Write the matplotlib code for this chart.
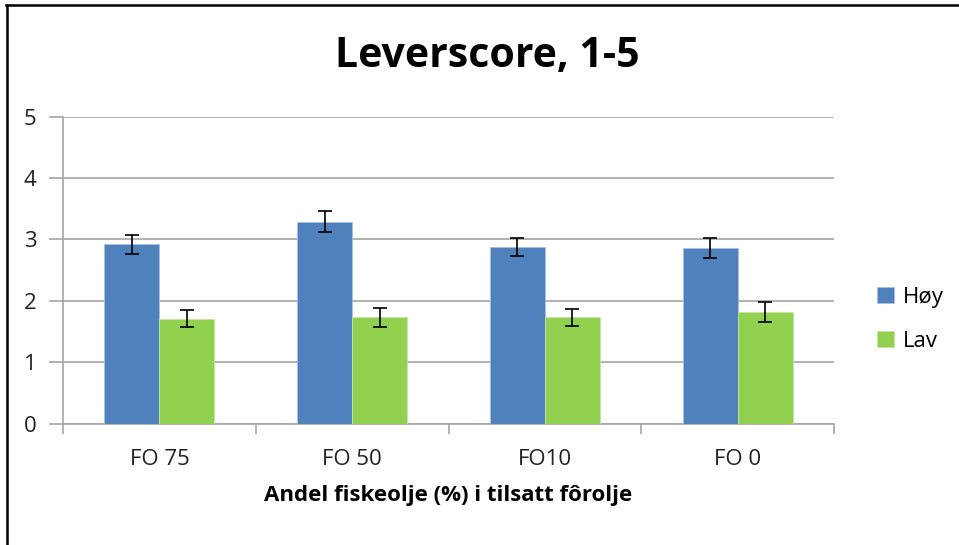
import matplotlib
matplotlib.use("Agg")
import matplotlib.pyplot as plt
import numpy as np
from matplotlib.lines import Line2D

plt.rcParams['font.family'] = ['Open Sans', 'DejaVu Sans']

categories = ["FO 75", "FO 50", "FO10", "FO 0"]
hoy = [2.92, 3.29, 2.88, 2.86]
lav = [1.71, 1.73, 1.73, 1.82]
hoy_err = [0.155, 0.17, 0.15, 0.16]
lav_err = [0.145, 0.15, 0.14, 0.16]
yticks = [0, 1, 2, 3, 4, 5]

blue = "#4F81BD"
green = "#92D050"
grid_col = "#A6A6A6"

fig = plt.figure(figsize=(9.59, 5.45), dpi=100)
ax = fig.add_axes([0.0657, 0.2229, 0.8040, 0.5630])

x = np.arange(len(categories))
w = 1 / 3.5
err_kw = dict(ecolor="black", elinewidth=1.2, capsize=5, capthick=1.2)
ax.bar(x - w / 2, hoy, w, color=blue, edgecolor="#A9C1E0", linewidth=0.6,
       yerr=hoy_err, error_kw=err_kw, label="Høy", zorder=3)
ax.bar(x + w / 2, lav, w, color=green, edgecolor="#C4E89F", linewidth=0.6,
       yerr=lav_err, error_kw=err_kw, label="Lav", zorder=3)

ax.set_xlim(-0.5, len(categories) - 0.5)
ax.set_ylim(0, 5)
ax.set_yticks(yticks)
ax.yaxis.grid(True, color=grid_col, linewidth=1.2, zorder=0)
ax.set_axisbelow(True)

ax.set_xticks(x)
ax.set_xticklabels(categories)
ax.set_xticks(np.arange(len(categories) + 1) - 0.5, minor=True)
ax.tick_params(axis="x", which="major", length=0, pad=18, labelsize=16, colors="#222222")
ax.tick_params(axis="x", which="minor", length=7, width=1.2, color=grid_col)
ax.tick_params(axis="y", length=10, width=1.2, color=grid_col, pad=9, labelsize=16,
               labelcolor="#222222")

for s in ["top", "right"]:
    ax.spines[s].set_visible(False)
for s in ["left", "bottom"]:
    ax.spines[s].set_color(grid_col)
    ax.spines[s].set_linewidth(1.2)

ax.set_xlabel("Andel fiskeolje (%) i tilsatt fôrolje", fontsize=16, fontweight="bold",
              labelpad=11)
fig.text(0.508, 0.896, "Leverscore, 1-5", fontsize=29.5, fontweight="bold",
         ha="center", va="center")

ax.legend(loc="center left", bbox_to_anchor=(1.03, 0.34), frameon=False,
          fontsize=16, handlelength=0.75, handleheight=0.75, handletextpad=0.4,
          labelspacing=1.05)

# chart frame (only top and left edges visible in the crop)
fig.add_artist(Line2D([0.006, 1.0], [0.991, 0.991], color="black", linewidth=1.8,
                      transform=fig.transFigure))
fig.add_artist(Line2D([0.0068, 0.0068], [0.0, 0.991], color="black", linewidth=1.8,
                      transform=fig.transFigure))

fig.savefig("out.png", dpi=100)
